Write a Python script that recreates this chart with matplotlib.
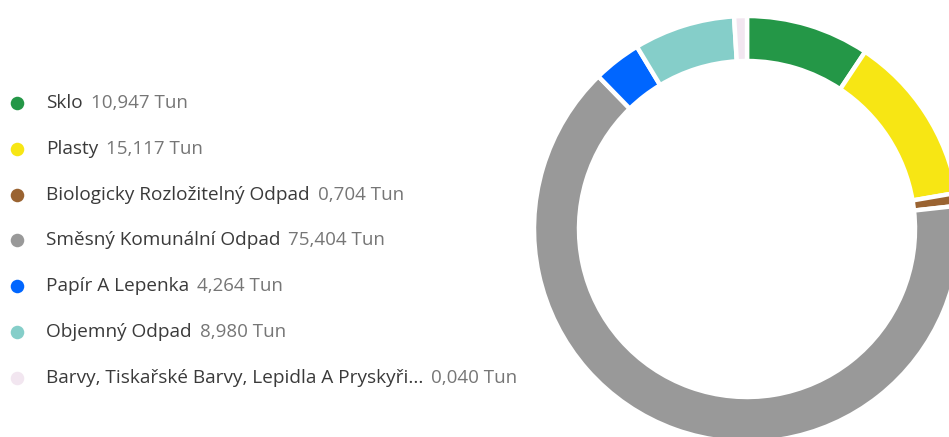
import matplotlib
matplotlib.use("Agg")
import matplotlib.pyplot as plt

# data
nazvy = ["Sklo", "Plasty", "Biologicky Rozložitelný Odpad", "Směsný Komunální Odpad",
         "Papír A Lepenka", "Objemný Odpad", "Barvy, Tiskařské Barvy, Lepidla A Pryskyři..."]
hodnoty = [10.947, 15.117, 0.704, 75.404, 4.264, 8.980, 0.040]
popisky = ["10,947 Tun", "15,117 Tun", "0,704 Tun", "75,404 Tun", "4,264 Tun", "8,980 Tun", "0,040 Tun"]
barvy = ["#249747", "#F7E614", "#9A6331", "#999999", "#0066FF", "#85CEC9", "#F2E6F0"]

plt.rcParams['font.family'] = ['Open Sans', 'DejaVu Sans']

W, H = 949, 437
fig = plt.figure(figsize=(W / 100, H / 100), dpi=100)
ax = fig.add_axes([0, 0, 1, 1])

# malé řezy se kreslí s minimální šířkou
celkem = sum(hodnoty)
zobraz = [max(v, 0.0098 * celkem) for v in hodnoty]

ax.pie(zobraz, colors=barvy, startangle=90, counterclock=False,
       center=(747, H - 229), radius=213,
       wedgeprops=dict(width=45, edgecolor="white", linewidth=3.2))
ax.set_xlim(0, W)
ax.set_ylim(0, H)
ax.set_aspect("equal")
ax.axis("off")

# legenda
renderer = fig.canvas.get_renderer()
for i, (n, p, c) in enumerate(zip(nazvy, popisky, barvy)):
    y = H - (103 + i * 45.8)
    ax.scatter([17], [y], s=95, color=c, linewidths=0, zorder=3)
    t = ax.text(46, y, n, fontsize=13.7, color="#3a3a3a", va="center", ha="left")
    bb = t.get_window_extent(renderer=renderer)
    ax.text(bb.x1 + 8, y, p, fontsize=13.5, color="#767676", va="center", ha="left")

fig.savefig("out.png", dpi=100)
